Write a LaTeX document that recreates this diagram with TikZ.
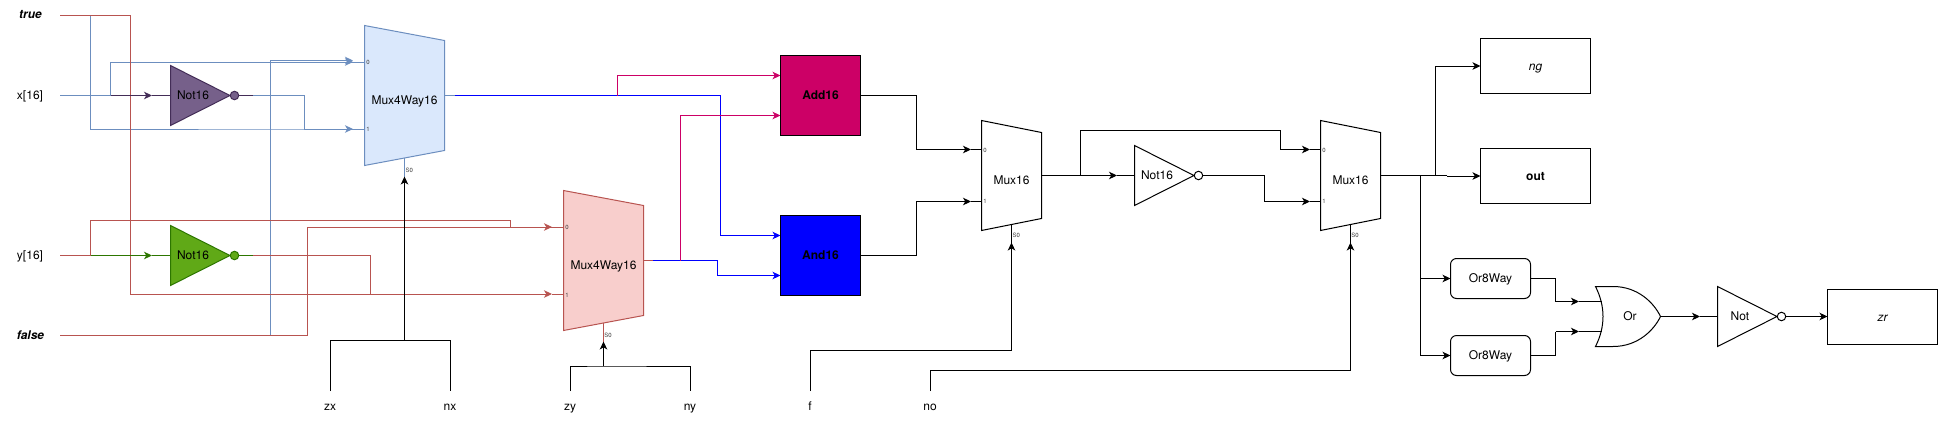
\documentclass[tikz,border=0pt]{standalone}
\usepackage{fontspec}
\setmainfont{TeX Gyre Heros}
\usetikzlibrary{arrows.meta}
\definecolor{cblue}{HTML}{6C8EBF}
\definecolor{cred}{HTML}{B85450}
\definecolor{cbluefill}{HTML}{DAE8FC}
\definecolor{credfill}{HTML}{F8CECC}
\definecolor{cpurple}{HTML}{432D57}
\definecolor{cpurplefill}{HTML}{76608A}
\definecolor{cgreen}{HTML}{2D7600}
\definecolor{cgreenfill}{HTML}{60A917}
\definecolor{ccrimson}{HTML}{CC0066}
\definecolor{cpure}{HTML}{0000FF}
\tikzset{
  wire/.style={line width=1pt,line join=miter},
  arrowed/.style={-{Stealth[length=8pt,width=7.5pt,inset=2.2pt]}},
  txt/.style={font=\fontsize{12pt}{12pt}\selectfont,text height=8.6pt,text depth=0pt,inner sep=0pt,outer sep=0pt,text=black},
  boxed/.style={txt,draw=black,line width=1pt,rectangle},
  tiny/.style={font=\fontsize{6pt}{6pt}\selectfont,inner sep=0pt,text=black!75},
  shape line/.style={line width=1pt,line join=miter}
}
% name, left x, centre y, width, half height, slant, colours, text
\newcommand\muxgate[8]{%
  \filldraw[shape line,#7] (#2,#3) ++(0,-#5) -- ++(#4,#6) -- ++(0,{2*#5-2*#6}) -- ++(-#4,#6) -- cycle;
  \node[txt,minimum width=#4pt,minimum height={2*#5pt}] (#1) at ({#2+#4/2},#3) {\raisebox{-4.5pt}{#8}};
}
% name, left x, centre y, colours, text
\newcommand\notgate[5]{%
  \filldraw[shape line,#4] (#2,#3) ++(0,-30) -- ++(59.5,30) -- ++(-59.5,30) -- cycle;
  \node[txt] (#1) at ({#2+22.5},{#3-0.3}) {#5};
  \node[circle,inner sep=0pt,minimum size=8.5pt,shape line,#4] (#1b) at ({#2+64},#3) {};
}
\begin{document}
\begin{tikzpicture}[x=1pt,y=-1pt]
\useasboundingbox (0,0) rectangle (1938,423);
\fill[white] (0,0) rectangle (1938,423);

% ---------- named junctions
\coordinate (trueO) at (60,15.5);
\coordinate (xO) at (60,95.5);
\coordinate (yO) at (60,255.5);
\coordinate (falseO) at (60,335.5);
\coordinate (jTb) at (90.5,15.5);
\coordinate (jTr) at (130.5,15.5);
\coordinate (jX) at (110.5,95.5);
\coordinate (jY) at (90.5,255.5);
\coordinate (jFb) at (270.5,335.5);
\coordinate (jFr) at (307,335.5);
\coordinate (m1a0) at (353,62);
\coordinate (m1a0b) at (353,60.5);
\coordinate (m1a1) at (353,129);
\coordinate (m1p0) at (364.5,62);
\coordinate (m1p1) at (364.5,129);
\coordinate (m2a0) at (552,227);
\coordinate (m2a1) at (552,294);
\coordinate (m2p0) at (563.5,227);
\coordinate (m2p1) at (563.5,294);
\coordinate (n1a) at (152,95.5);
\coordinate (n1m) at (253,95.5);
\coordinate (n1j) at (304,95.5);
\coordinate (n1k) at (304,129);
\coordinate (n2a) at (152,255.5);
\coordinate (n2m) at (253,255.5);
\coordinate (n2j) at (370.5,255.5);
\coordinate (n2k) at (370.5,294);
\coordinate (r1) at (510.5,220.5);
\coordinate (r2) at (510.5,227);

\coordinate (m1s) at (404.5,158);
\coordinate (m1st) at (404.5,176.5);
\coordinate (m2s) at (603.5,323);
\coordinate (m2st) at (603.5,341.5);
\coordinate (m3s) at (1011.5,225);
\coordinate (m3st) at (1011.5,242.5);
\coordinate (m4s) at (1350.5,225);
\coordinate (m4st) at (1350.5,242.5);
\coordinate (b1) at (404.5,340.5);
\coordinate (b2) at (603.5,366);

\coordinate (o1) at (444.5,95.5);
\coordinate (o1b) at (455,95.5);
\coordinate (jA) at (617.5,95.5);
\coordinate (jB) at (720.5,95.5);
\coordinate (o2) at (643.5,260.5);
\coordinate (o2b) at (653,260.5);
\coordinate (jC) at (680.5,260.5);
\coordinate (jD) at (717,260.5);
\coordinate (jD2) at (717,275.5);
\coordinate (add0) at (780.5,75.5);
\coordinate (add1) at (780.5,115.5);
\coordinate (and0) at (780.5,235.5);
\coordinate (and1) at (780.5,275.5);

\coordinate (addO) at (860.5,95.5);
\coordinate (andO) at (860.5,255.5);
\coordinate (a1) at (916,95.5);
\coordinate (a2) at (916,149.5);
\coordinate (a3) at (916,255.5);
\coordinate (a4) at (916,201.5);
\coordinate (m3a0) at (971,149.5);
\coordinate (m3a1) at (971,201.5);
\coordinate (m3p0) at (981.5,149.5);
\coordinate (m3p1) at (981.5,201.5);
\coordinate (m3o) at (1041.5,175.5);
\coordinate (jN) at (1080.5,175.5);
\coordinate (jN2) at (1080.5,130.5);
\coordinate (jN3) at (1280.5,130.5);
\coordinate (jN4) at (1280.5,149.5);
\coordinate (n3a) at (1117,175.5);
\coordinate (n3p) at (1134.5,175.5);
\coordinate (m4a0) at (1310,149.5);
\coordinate (m4a1) at (1310,201.5);
\coordinate (m4p0) at (1320.5,149.5);
\coordinate (m4p1) at (1320.5,201.5);
\coordinate (n3j) at (1264,175.5);
\coordinate (n3k) at (1264,201.5);
\coordinate (m4o) at (1380.5,175.5);
\coordinate (jO1) at (1420.5,175.5);
\coordinate (jO2) at (1435.5,175.5);
\coordinate (jO3) at (1447,175.5);
\coordinate (jO4) at (1447,176);
\coordinate (jO5) at (1420.5,278.5);
\coordinate (jO6) at (1420.5,355.5);
\coordinate (jO7) at (1435.5,66);
\coordinate (p1a) at (1555.5,278.5);
\coordinate (p1b) at (1555.5,301.5);
\coordinate (p2a) at (1555.5,355.5);
\coordinate (p2b) at (1555.5,331.5);
\coordinate (q1a) at (1579,301.5);
\coordinate (q2a) at (1579,331.5);
\coordinate (q1) at (1602,301.5);
\coordinate (q2) at (1602,331.5);
\coordinate (orO) at (1660.5,316.5);
\coordinate (n4a) at (1700,316.5);
\coordinate (n4p) at (1717.5,316.5);
\coordinate (zxO) at (330.5,391);
\coordinate (nxO) at (450.5,391);
\coordinate (zyO) at (570.5,391);
\coordinate (nyO) at (690.5,391);
\coordinate (fO) at (810.5,391);
\coordinate (noO) at (930.5,391);

% ---------- text labels of the free ends
\node[txt,font=\fontsize{12pt}{12pt}\selectfont\bfseries\itshape] (ltrue) at (30.5,14.7) {true};
\node[txt] (lx) at (30,95.2) {x[16]};
\node[txt] (ly) at (30,255.2) {y[16]};
\node[txt,font=\fontsize{12pt}{12pt}\selectfont\bfseries\itshape] (lfalse) at (30.5,334.7) {false};
\node[txt] (lzx) at (330,406.2) {zx};
\node[txt] (lnx) at (450,406.2) {nx};
\node[txt] (lzy) at (570,406.2) {zy};
\node[txt] (lny) at (690,406.2) {ny};
\node[txt] (lf) at (810,406.2) {f};
\node[txt] (lno) at (930,406.2) {no};

% ---------- blue wires
\begin{scope}[wire,draw=cblue,color=cblue]
\draw (trueO) -- (jTb) |- (n1k) -- (m1a1);
\draw (xO) -- (jX);
\draw (jX) |- (m1a0);
\draw (n1m) -- (n1j) -- (n1k);
\draw[arrowed] (n1k) -- (m1a1);
\draw[arrowed] (jX |- m1a0) -- (m1a0);
\draw[arrowed] (jFb) |- (m1a0b);
\draw (m1a0) -- (m1p0);
\draw (m1a1) -- (m1p1);
\draw (m1s) -- (m1st);
\draw (o1) -- (o1b);
\end{scope}

% ---------- red wires
\begin{scope}[wire,draw=cred,color=cred]
\draw (trueO) -- (jTr) |- (n2k);
\draw (yO) -- (jY);
\draw (jY) |- (r1) -- (r2);
\draw (falseO) -- (jFr) |- (m2a0);
\draw[arrowed] (jFr |- m2a0) -- (m2a0);
\draw (m2a0) -- (m2p0);
\draw (n2m) -- (n2j) -- (n2k);
\draw[arrowed] (n2k) -- (m2a1);
\draw (m2a1) -- (m2p1);
\draw (m2s) -- (m2st);
\draw (o2) -- (o2b);
\end{scope}

% ---------- purple and green wires
\draw[wire,cpurple,arrowed] (jX) -- (n1a);
\draw[wire,cpurple] (n1a) -- (170,95.5);
\draw[wire,cpurple] (239,95.5) -- (n1m);
\draw[wire,cgreen,arrowed] (jY) -- (n2a);
\draw[wire,cgreen] (n2a) -- (170,255.5);
\draw[wire,cgreen] (239,255.5) -- (n2m);

% ---------- blue and crimson wires
\draw[wire,cpure] (o1b) -- (jB);
\draw[wire,cpure,arrowed] (jB) |- (and0);
\draw[wire,cpure] (o2b) -- (jD) -- (jD2);
\draw[wire,cpure,arrowed] (jD2) -- (and1);
\draw[wire,ccrimson,arrowed] (jA) |- (add0);
\draw[wire,ccrimson,arrowed] (jC) |- (add1);

% ---------- black wires
\begin{scope}[wire,draw=black]
\draw (zxO) |- (b1) -| (nxO);
\draw[arrowed] (b1) -- (m1st);
\draw (zyO) |- (b2) -| (nyO);
\draw[arrowed] (b2) -- (m2st);
\draw (fO) |- (1011.5,350.5) -- (m3st);
\draw[arrowed] (1011.5,300) -- (m3st);
\draw (noO) |- (1350.5,370.5) -- (m4st);
\draw[arrowed] (1350.5,300) -- (m4st);
\draw (m3s) -- (m3st);
\draw (m4s) -- (m4st);
\draw (addO) -- (a1) -- (a2);
\draw[arrowed] (a2) -- (m3a0);
\draw (m3a0) -- (m3p0);
\draw (andO) -- (a3) -- (a4);
\draw[arrowed] (a4) -- (m3a1);
\draw (m3a1) -- (m3p1);
\draw[arrowed] (m3o) -- (n3a);
\draw (n3a) -- (n3p);
\draw (jN) -- (jN2) -- (jN3) -- (jN4);
\draw[arrowed] (jN4) -- (m4a0);
\draw (m4a0) -- (m4p0);
\draw (1203,175.5) -- (n3j) -- (n3k);
\draw[arrowed] (n3k) -- (m4a1);
\draw (m4a1) -- (m4p1);
\draw (m4o) -- (jO3);
\draw (jO1) -- (jO6);
\draw (jO2) -- (jO7);
\end{scope}

% ---------- muxes and gates
\muxgate{m1}{364.5}{95.5}{80}{70}{15}{draw=cblue,fill=cbluefill}{Mux4Way16}
\muxgate{m2}{563.5}{260.5}{80}{70}{15}{draw=cred,fill=credfill}{Mux4Way16}
\muxgate{m3}{981.5}{175.5}{60}{55}{12}{draw=black,fill=white}{Mux16}
\muxgate{m4}{1320.5}{175.5}{60}{55}{12}{draw=black,fill=white}{Mux16}
\notgate{n1}{170.5}{95.5}{draw=cpurple,fill=cpurplefill}{Not16}
\notgate{n2}{170.5}{255.5}{draw=cgreen,fill=cgreenfill}{Not16}
\notgate{n3}{1134.5}{175.5}{draw=black,fill=white}{Not16}
\notgate{n4}{1717.5}{316.5}{draw=black,fill=white}{Not}

% pin labels
\node[tiny] (t10) at (368,62.7) {0};
\node[tiny] (t11) at (368,129.7) {1};
\node[tiny] (t1s) at (409.2,170.7) {S0};
\node[tiny] (t20) at (567,227.7) {0};
\node[tiny] (t21) at (567,295) {1};
\node[tiny] (t2s) at (608,335.7) {S0};
\node[tiny] (t30) at (985,150) {0};
\node[tiny] (t31) at (985,201.7) {1};
\node[tiny] (t3s) at (1016.3,235.7) {S0};
\node[tiny] (t40) at (1324,150) {0};
\node[tiny] (t41) at (1324,201.7) {1};
\node[tiny] (t4s) at (1355,235.7) {S0};

% ---------- boxes
\node[boxed,fill=ccrimson,minimum width=80pt,minimum height=80pt,font=\fontsize{12pt}{12pt}\selectfont\bfseries] (add) at (820.5,95.5) {Add16};
\node[boxed,fill=cpure,minimum width=80pt,minimum height=80pt,font=\fontsize{12pt}{12pt}\selectfont\bfseries] (and) at (820.5,255.5) {And16};
\node[boxed,minimum width=110pt,minimum height=55pt,font=\fontsize{12pt}{12pt}\selectfont\itshape] (ng) at (1535.5,66) {ng};
\node[boxed,minimum width=110pt,minimum height=55pt,font=\fontsize{12pt}{12pt}\selectfont\bfseries] (out) at (1535.5,176) {out};
\node[boxed,minimum width=110pt,minimum height=55pt,font=\fontsize{12pt}{12pt}\selectfont\itshape] (zr) at (1882.5,317) {zr};
\node[boxed,rounded corners=6pt,minimum width=80pt,minimum height=40pt] (or1) at (1490.5,278.5) {Or8Way};
\node[boxed,rounded corners=6pt,minimum width=80pt,minimum height=40pt] (or2) at (1490.5,355.5) {Or8Way};

% Or gate
\filldraw[shape line,draw=black,fill=white] (1595.5,286.5) -- (1613,286.5)
  .. controls (1638,286.5) and (1654,303) .. (1660.5,316.5)
  .. controls (1654,330) and (1638,346.5) .. (1613,346.5) -- (1595.5,346.5)
  .. controls (1605.5,326.5) and (1605.5,306.5) .. (1595.5,286.5) -- cycle;
\node[txt] (orl) at (1630,315.7) {Or};

% ---------- last black wires, into the boxes
\begin{scope}[wire,draw=black]
\draw[arrowed] (jO7) -- (ng.west);
\draw (jO3) -- (jO4);
\draw[arrowed] (jO4) -- (out.west);
\draw[arrowed] (jO5) -- (or1.west);
\draw[arrowed] (jO6) -- (or2.west);
\draw (or1.east) -- (p1a) -- (p1b);
\draw[arrowed] (p1b) -- (q1a);
\draw (q1a) -- (q1);
\draw (or2.east) -- (p2a) -- (p2b);
\draw[arrowed] (p2b) -- (q2a);
\draw (q2a) -- (q2);
\draw[arrowed] (orO) -- (n4a);
\draw (n4a) -- (n4p);
\draw[arrowed] (n4b.east) -- (n4b.east -| zr.west);
\draw (addO) -- (add.east);
\draw (andO) -- (and.east);
\end{scope}
\end{tikzpicture}
\end{document}
